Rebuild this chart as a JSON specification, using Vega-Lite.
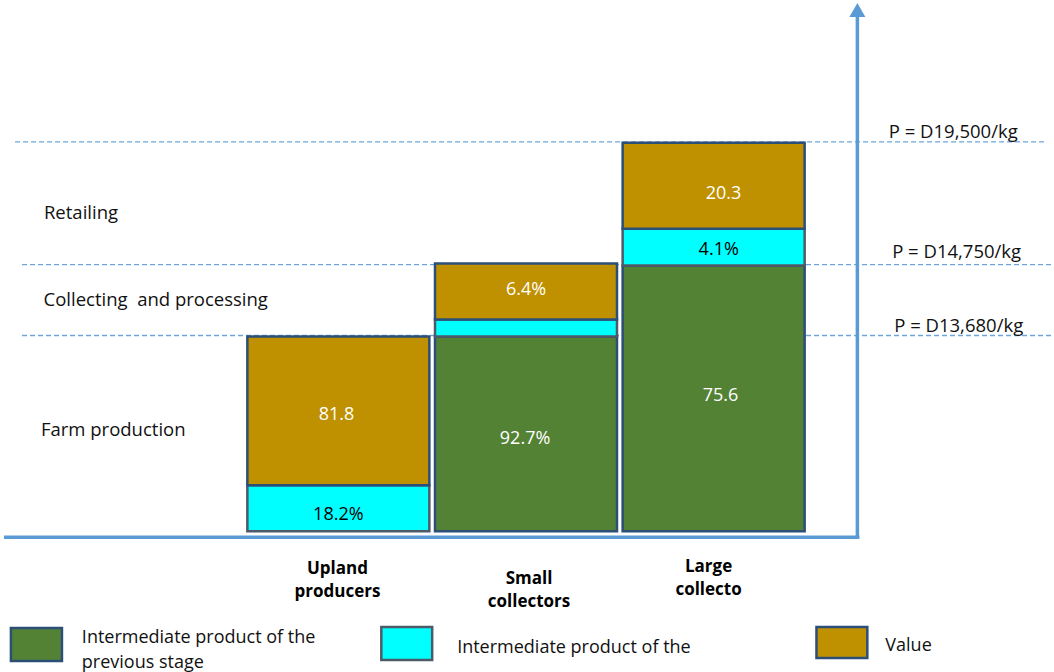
{
  "$schema": "https://vega.github.io/schema/vega-lite/v6.json",
  "width": 1054,
  "height": 672,
  "autosize": {"type": "fit", "contains": "padding"},
  "padding": 0,
  "background": "#ffffff",
  "config": {"view": {"stroke": null}, "text": {"font": "Open Sans"}},
  "datasets": {
    "segments": [
      {"collector": "Upland producers", "idx": 1, "part": "curr", "start": 0, "end": 46},
      {"collector": "Upland producers", "idx": 1, "part": "value", "start": 46, "end": 195},
      {"collector": "Small collectors", "idx": 2, "part": "prev", "start": 0, "end": 195},
      {"collector": "Small collectors", "idx": 2, "part": "curr", "start": 195, "end": 212},
      {"collector": "Small collectors", "idx": 2, "part": "value", "start": 212, "end": 268},
      {"collector": "Large collectors", "idx": 3, "part": "prev", "start": 0, "end": 266},
      {"collector": "Large collectors", "idx": 3, "part": "curr", "start": 266, "end": 303},
      {"collector": "Large collectors", "idx": 3, "part": "value", "start": 303, "end": 389}
    ],
    "whiteLabels": [
      {"label": "81.8", "x": 0.99, "y": 116},
      {"label": "92.7%", "x": 1.995, "y": 92},
      {"label": "6.4%", "x": 2.0, "y": 242},
      {"label": "20.3", "x": 3.053, "y": 338},
      {"label": "75.6", "x": 3.037, "y": 135}
    ],
    "blackLabels": [
      {"label": "18.2%", "x": 1.0, "y": 16},
      {"label": "4.1%", "x": 3.027, "y": 282}
    ],
    "priceLines": [
      {"price": "P = D19,500/kg", "level": 390, "xs": -0.723, "xe": 4.771, "tx": 4.277, "ty": 394},
      {"price": "P = D14,750/kg", "level": 267, "xs": -0.686, "xe": 4.81, "tx": 4.295, "ty": 274},
      {"price": "P = D13,680/kg", "level": 196, "xs": -0.686, "xe": 4.81, "tx": 4.306, "ty": 200}
    ],
    "stages": [
      {"stage": "Retailing", "x": -0.569, "y": 313},
      {"stage": "Collecting\u00a0 and processing", "x": -0.571, "y": 226},
      {"stage": "Farm production", "x": -0.585, "y": 95}
    ],
    "categories": [
      {"cat": "Upland\nproducers", "x": 0.995, "y": -43},
      {"cat": "Small\ncollectors", "x": 2.016, "y": -53},
      {"cat": "Large\ncollecto", "x": 2.973, "y": -41}
    ],
    "axes": [
      {"xs": -0.782, "xe": 3.777, "ys": -6, "ye": -6},
      {"xs": 3.766, "xe": 3.766, "ys": -6, "ye": 517}
    ],
    "arrow": [{"x": 3.766, "y": 522}],
    "swatches": [
      {"part": "prev", "xs": -0.745, "xe": -0.473, "ys": -97, "ye": -130},
      {"part": "curr", "xs": 1.229, "xe": 1.5, "ys": -96, "ye": -129},
      {"part": "value", "xs": 3.548, "xe": 3.819, "ys": -96, "ye": -127}
    ],
    "legendText": [
      {"t": "Intermediate product of the\nprevious stage", "x": -0.367, "y": -112},
      {"t": "Intermediate product of the", "x": 1.633, "y": -122},
      {"t": "Value", "x": 3.915, "y": -120}
    ]
  },
  "layer": [
    {
      "data": {"name": "priceLines"},
      "mark": {"type": "rule", "strokeDash": [5, 3], "color": "#6FA5DA", "strokeWidth": 1.3},
      "encoding": {
        "x": {"field": "xs", "type": "quantitative", "axis": null, "scale": {"domain": [-0.8032, 4.8032], "nice": false, "zero": false, "padding": 0}},
        "x2": {"field": "xe"},
        "y": {"field": "level", "type": "quantitative", "axis": null, "scale": {"domain": [-140, 532], "nice": false, "zero": false, "padding": 0}}
      }
    },
    {
      "data": {"name": "segments"},
      "mark": {"type": "bar", "size": 182, "strokeWidth": 2.5},
      "encoding": {
        "x": {"field": "idx", "type": "quantitative", "axis": null, "scale": {"domain": [-0.8032, 4.8032], "nice": false, "zero": false, "padding": 0}},
        "y": {"field": "start", "type": "quantitative", "axis": null, "scale": {"domain": [-140, 532], "nice": false, "zero": false, "padding": 0}},
        "y2": {"field": "end"},
        "color": {"field": "part", "type": "nominal", "legend": null, "scale": {"domain": ["prev", "curr", "value"], "range": ["#548235", "#00FFFF", "#BF9000"]}},
        "stroke": {"field": "part", "type": "nominal", "legend": null, "scale": {"domain": ["prev", "curr", "value"], "range": ["#2C4F78", "#4E5A68", "#2C4F78"]}},
        "opacity": {"value": 1}
      }
    },
    {
      "data": {"name": "swatches"},
      "mark": {"type": "rect", "strokeWidth": 2.5},
      "encoding": {
        "x": {"field": "xs", "type": "quantitative", "axis": null, "scale": {"domain": [-0.8032, 4.8032], "nice": false, "zero": false, "padding": 0}},
        "x2": {"field": "xe"},
        "y": {"field": "ys", "type": "quantitative", "axis": null, "scale": {"domain": [-140, 532], "nice": false, "zero": false, "padding": 0}},
        "y2": {"field": "ye"},
        "color": {"field": "part", "type": "nominal", "legend": null, "scale": {"domain": ["prev", "curr", "value"], "range": ["#548235", "#00FFFF", "#BF9000"]}},
        "stroke": {"field": "part", "type": "nominal", "legend": null, "scale": {"domain": ["prev", "curr", "value"], "range": ["#2C4F78", "#4E5A68", "#2C4F78"]}},
        "opacity": {"value": 1}
      }
    },
    {
      "data": {"name": "axes"},
      "mark": {"type": "rule", "color": "#5B9BD5", "strokeWidth": 3.5},
      "encoding": {
        "x": {"field": "xs", "type": "quantitative", "axis": null, "scale": {"domain": [-0.8032, 4.8032], "nice": false, "zero": false, "padding": 0}},
        "x2": {"field": "xe"},
        "y": {"field": "ys", "type": "quantitative", "axis": null, "scale": {"domain": [-140, 532], "nice": false, "zero": false, "padding": 0}},
        "y2": {"field": "ye"}
      }
    },
    {
      "data": {"name": "arrow"},
      "mark": {"type": "point", "shape": "triangle-up", "size": 256, "filled": true, "color": "#5B9BD5", "opacity": 1},
      "encoding": {
        "x": {"field": "x", "type": "quantitative", "axis": null, "scale": {"domain": [-0.8032, 4.8032], "nice": false, "zero": false, "padding": 0}},
        "y": {"field": "y", "type": "quantitative", "axis": null, "scale": {"domain": [-140, 532], "nice": false, "zero": false, "padding": 0}}
      }
    },
    {
      "data": {"name": "whiteLabels"},
      "mark": {"type": "text", "fontSize": 18, "align": "center", "baseline": "middle", "color": "#ffffff"},
      "encoding": {
        "x": {"field": "x", "type": "quantitative", "axis": null, "scale": {"domain": [-0.8032, 4.8032], "nice": false, "zero": false, "padding": 0}},
        "y": {"field": "y", "type": "quantitative", "axis": null, "scale": {"domain": [-140, 532], "nice": false, "zero": false, "padding": 0}},
        "text": {"field": "label"}
      }
    },
    {
      "data": {"name": "blackLabels"},
      "mark": {"type": "text", "fontSize": 18, "align": "center", "baseline": "middle", "color": "#000000"},
      "encoding": {
        "x": {"field": "x", "type": "quantitative", "axis": null, "scale": {"domain": [-0.8032, 4.8032], "nice": false, "zero": false, "padding": 0}},
        "y": {"field": "y", "type": "quantitative", "axis": null, "scale": {"domain": [-140, 532], "nice": false, "zero": false, "padding": 0}},
        "text": {"field": "label"}
      }
    },
    {
      "data": {"name": "priceLines"},
      "mark": {"type": "text", "fontSize": 18.5, "align": "center", "baseline": "alphabetic", "color": "#111111"},
      "encoding": {
        "x": {"field": "tx", "type": "quantitative", "axis": null, "scale": {"domain": [-0.8032, 4.8032], "nice": false, "zero": false, "padding": 0}},
        "y": {"field": "ty", "type": "quantitative", "axis": null, "scale": {"domain": [-140, 532], "nice": false, "zero": false, "padding": 0}},
        "text": {"field": "price"}
      }
    },
    {
      "data": {"name": "stages"},
      "mark": {"type": "text", "fontSize": 18.5, "align": "left", "baseline": "alphabetic", "color": "#111111"},
      "encoding": {
        "x": {"field": "x", "type": "quantitative", "axis": null, "scale": {"domain": [-0.8032, 4.8032], "nice": false, "zero": false, "padding": 0}},
        "y": {"field": "y", "type": "quantitative", "axis": null, "scale": {"domain": [-140, 532], "nice": false, "zero": false, "padding": 0}},
        "text": {"field": "stage"}
      }
    },
    {
      "data": {"name": "categories"},
      "mark": {"type": "text", "fontSize": 17, "fontWeight": "bold", "align": "center", "baseline": "alphabetic", "lineBreak": "\n", "lineHeight": 23, "color": "#000000"},
      "encoding": {
        "x": {"field": "x", "type": "quantitative", "axis": null, "scale": {"domain": [-0.8032, 4.8032], "nice": false, "zero": false, "padding": 0}},
        "y": {"field": "y", "type": "quantitative", "axis": null, "scale": {"domain": [-140, 532], "nice": false, "zero": false, "padding": 0}},
        "text": {"field": "cat"}
      }
    },
    {
      "data": {"name": "legendText"},
      "mark": {"type": "text", "fontSize": 18, "align": "left", "baseline": "alphabetic", "lineBreak": "\n", "lineHeight": 25, "color": "#111111"},
      "encoding": {
        "x": {"field": "x", "type": "quantitative", "axis": null, "scale": {"domain": [-0.8032, 4.8032], "nice": false, "zero": false, "padding": 0}},
        "y": {"field": "y", "type": "quantitative", "axis": null, "scale": {"domain": [-140, 532], "nice": false, "zero": false, "padding": 0}},
        "text": {"field": "t"}
      }
    }
  ]
}
